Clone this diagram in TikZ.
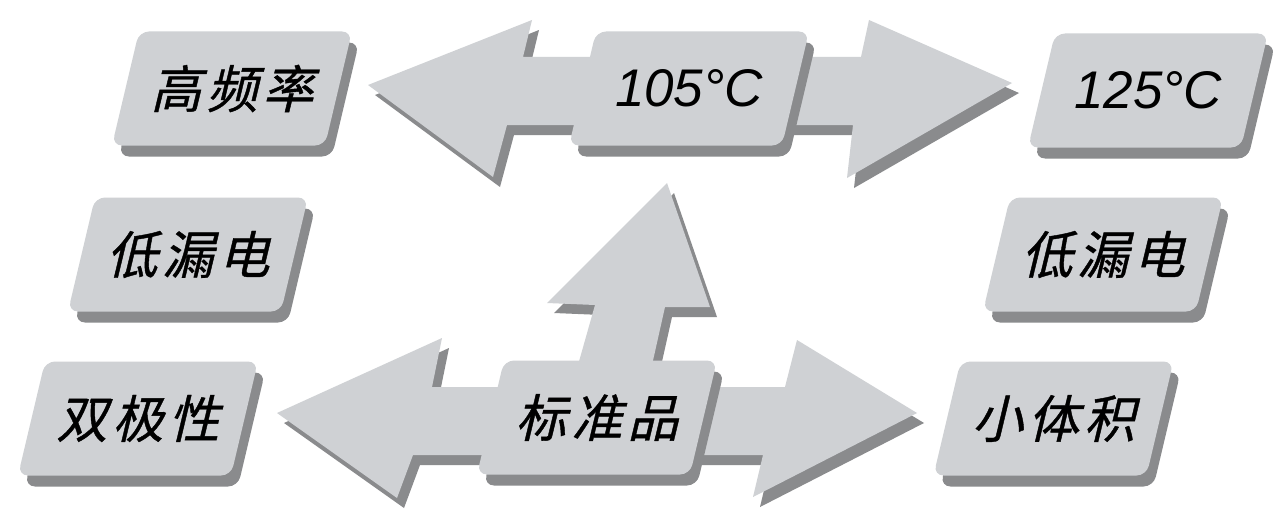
\documentclass[tikz,border=0pt]{standalone}
\usepackage{fontspec}
\setmainfont{Liberation Sans}
\newfontfamily\cjk{Noto Sans CJK SC}[FakeSlant=0.24,FakeBold=0.8]
\usetikzlibrary{calc}
\definecolor{boxfill}{RGB}{207,209,212}
\definecolor{shadowc}{RGB}{138,139,141}
\tikzset{
  cjktext/.style={font=\cjk\fontsize{51}{51}\selectfont, inner sep=0pt},
  lattext/.style={font=\itshape\fontsize{53}{53}\selectfont, inner sep=0pt},
}
\newcommand\slantbox[5]{%
  \fill[shadowc, rounded corners=10pt, shift={(#2+7,#3+11)}] (-93,-57) -- (120,-57) -- (93,57) -- (-120,57) -- cycle;
  \fill[boxfill, rounded corners=10pt, shift={(#2,#3)}] (-93,-57) -- (120,-57) -- (93,57) -- (-120,57) -- cycle;
  \node[#4] (#1) at (#2,#3) {#5};
}
\newcommand\blockarrow[1]{%
  \fill[shadowc, shift={(7,10)}] #1;
  \fill[boxfill] #1;
}
\begin{document}
\begin{tikzpicture}[x=1pt,y=-1pt]
\fill[white] (0,0) rectangle (1274,511);
\useasboundingbox (0,0) rectangle (1274,511);
% top double arrow
\blockarrow{(368,85) -- (532,20) -- (523,57) -- (861,57) -- (869,20) -- (1012,83) -- (847,178) -- (853,125) -- (507,125) -- (493,177) -- cycle}
% bottom double arrow
\blockarrow{(277,413) -- (442,338) -- (432,387) -- (785,387) -- (797,340) -- (917,413) -- (753,497) -- (763,455) -- (413,455) -- (397,498) -- cycle}
% up arrow
\blockarrow{(667,183) -- (710,307) -- (665,307) -- (652,365) -- (578,365) -- (595,305) -- (547,303) -- cycle}
% boxes
\slantbox{hf}{232}{88.5}{cjktext}{高\kern5pt频\kern5pt率}
\slantbox{t105}{689}{88.5}{lattext}{105°C}
\slantbox{t125}{1148}{90.5}{lattext}{125°C}
\slantbox{ldl}{188}{254.5}{cjktext}{低\kern5pt漏\kern5pt电}
\slantbox{ldr}{1103}{254.5}{cjktext}{低\kern5pt漏\kern5pt电}
\slantbox{sjx}{138}{418.5}{cjktext}{双\kern5pt极\kern5pt性}
\slantbox{bzp}{597}{417.5}{cjktext}{标\kern5pt准\kern5pt品}
\slantbox{xtj}{1053.5}{418.5}{cjktext}{小\kern5pt体\kern5pt积}
\end{tikzpicture}
\end{document}
